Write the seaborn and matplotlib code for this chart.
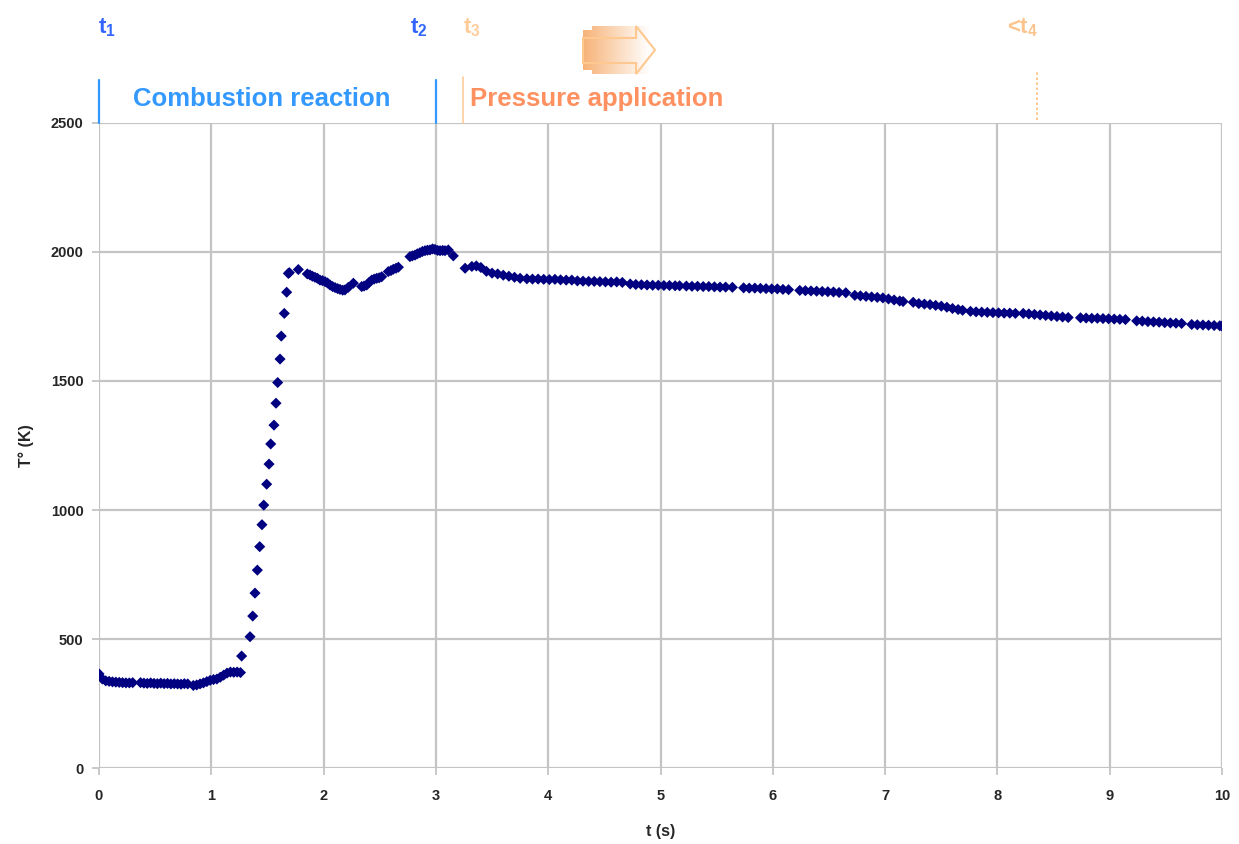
import numpy as np
import pandas as pd
import seaborn as sns
import matplotlib.pyplot as plt
import matplotlib.transforms as mtransforms
from matplotlib.patches import Polygon

# temperature trace: time (s), temperature (K)
t_s = [
    0.00, 0.03, 0.06, 0.09, 0.12, 0.15, 0.18, 0.21, 0.24, 0.27, 0.30,
    0.37, 0.40, 0.43, 0.46, 0.49, 0.52, 0.55, 0.58, 0.61, 0.64, 0.67, 0.70, 0.73, 0.76, 0.79,
    0.84, 0.87, 0.90, 0.93, 0.96, 0.99, 1.02, 1.05, 1.08, 1.11, 1.14, 1.17, 1.20, 1.23, 1.26,
    1.27, 1.345, 1.369, 1.389, 1.410, 1.431, 1.451, 1.467, 1.493, 1.514, 1.529, 1.558,
    1.576, 1.591, 1.612, 1.623, 1.650, 1.671, 1.686, 1.695, 1.775,
    1.855, 1.879, 1.90, 1.923, 1.945, 1.968, 1.99, 2.013, 2.035, 2.057, 2.08, 2.102, 2.125,
    2.146, 2.17, 2.19, 2.22, 2.265,
    2.339, 2.36, 2.384, 2.405, 2.428, 2.45, 2.473, 2.495, 2.517, 2.576, 2.60, 2.621, 2.645, 2.666,
    2.769, 2.79, 2.814, 2.835, 2.858, 2.88, 2.903, 2.925, 2.947, 2.97, 2.992, 3.015, 3.037,
    3.06, 3.081, 3.11, 3.155,
    3.26, 3.32, 3.36, 3.40, 3.45, 3.50, 3.55, 3.60, 3.65, 3.70, 3.75,
    3.81, 3.86, 3.91, 3.96, 4.01, 4.06, 4.11, 4.16, 4.21,
    4.26, 4.31, 4.36, 4.41, 4.46, 4.51, 4.56, 4.61, 4.66,
    4.73, 4.78, 4.83, 4.88, 4.93, 4.98, 5.03, 5.08, 5.13, 5.17,
    5.23, 5.28, 5.33, 5.38, 5.43, 5.48, 5.53, 5.58, 5.64,
    5.74, 5.79, 5.84, 5.89, 5.94, 5.99, 6.04, 6.09, 6.14,
    6.24, 6.29, 6.34, 6.39, 6.44, 6.49, 6.54, 6.59, 6.65,
    6.73, 6.78, 6.83, 6.88, 6.93, 6.98, 7.03, 7.08, 7.13, 7.16,
    7.25, 7.30, 7.35, 7.40, 7.45, 7.50, 7.55, 7.60, 7.65, 7.69,
    7.76, 7.81, 7.86, 7.91, 7.96, 8.01, 8.06, 8.11, 8.16,
    8.23, 8.28, 8.33, 8.38, 8.43, 8.48, 8.53, 8.58, 8.63,
    8.74, 8.79, 8.84, 8.89, 8.94, 8.99, 9.04, 9.09, 9.14,
    9.24, 9.29, 9.34, 9.39, 9.44, 9.49, 9.54, 9.59, 9.64,
    9.73, 9.78, 9.83, 9.88, 9.93, 9.98, 10.0,
]
temp_k = [
    365, 345, 338, 336, 334, 333, 332, 331, 330, 330, 331,
    331, 329, 328, 330, 328, 327, 329, 327, 328, 326, 327, 326, 325, 327, 326,
    320, 322, 326, 330, 335, 340, 343, 345, 352, 360, 368, 372, 371, 372, 370,
    434, 509, 589, 678, 767, 858, 943, 1019, 1100, 1178, 1256, 1329,
    1414, 1494, 1585, 1674, 1762, 1844, 1917, 1920, 1932,
    1915, 1911, 1906, 1902, 1898, 1891, 1889, 1885, 1880, 1872, 1866, 1862, 1858,
    1855, 1852, 1853, 1863, 1879,
    1866, 1868, 1872, 1882, 1891, 1895, 1898, 1900, 1904, 1924, 1928, 1933, 1937, 1941,
    1982, 1985, 1988, 1993, 1997, 2002, 2005, 2007, 2008, 2012, 2010, 2006, 2005,
    2006, 2005, 2008, 1985,
    1937, 1944, 1946, 1940, 1925, 1918, 1915, 1910, 1906, 1902, 1898,
    1896, 1895, 1895, 1894, 1893, 1894, 1892, 1891, 1891,
    1888, 1887, 1886, 1886, 1885, 1884, 1883, 1884, 1882,
    1876, 1874, 1873, 1872, 1871, 1871, 1870, 1870, 1869, 1869,
    1868, 1867, 1867, 1866, 1866, 1865, 1864, 1864, 1863,
    1861, 1860, 1860, 1859, 1858, 1857, 1857, 1855, 1854,
    1851, 1850, 1849, 1848, 1847, 1846, 1845, 1843, 1842,
    1832, 1830, 1828, 1826, 1824, 1822, 1818, 1814, 1810, 1808,
    1805, 1800, 1798, 1796, 1793, 1790, 1786, 1781, 1777, 1774,
    1770, 1768, 1767, 1766, 1765, 1764, 1763, 1763, 1762,
    1762, 1760, 1758, 1756, 1754, 1752, 1750, 1748, 1746,
    1745, 1744, 1743, 1743, 1742, 1741, 1740, 1739, 1738,
    1733, 1732, 1730, 1729, 1728, 1726, 1725, 1724, 1723,
    1719, 1718, 1717, 1716, 1715, 1714, 1713,
]

x_ticks = list(range(0, 11))
y_ticks = [0, 500, 1000, 1500, 2000, 2500]

# process markers above the plot
stage_names = ["Combustion reaction", "Pressure application"]
stage_text_t = [0.30, 3.30]
t1_t, t2_t, t3_t, t4_t = 0.0, 3.0, 3.24, 8.35

df = pd.DataFrame({"t": t_s, "T": temp_k})

sns.set_theme(style="whitegrid")
plt.rcParams["font.family"] = ["Liberation Sans", "DejaVu Sans"]
plt.rcParams["mathtext.fontset"] = "custom"
plt.rcParams["mathtext.bf"] = "Liberation Sans:bold"
plt.rcParams["mathtext.rm"] = "Liberation Sans:bold"

fig = plt.figure(figsize=(12.39, 8.44), dpi=100)
ax = fig.add_axes([0.0799, 0.0900, 0.9064, 0.7643])

sns.scatterplot(data=df, x="t", y="T", marker="D", s=32, color="#000080",
                edgecolor="none", linewidth=0, ax=ax, zorder=3)

grid_c = "#c4c4c4"
ax.set_xlim(0, 10)
ax.set_ylim(0, 2500)
ax.set_xticks(x_ticks)
ax.set_yticks(y_ticks)
ax.grid(True, color=grid_c, linewidth=1.6)
for sp in ax.spines.values():
    sp.set_visible(False)
ax.tick_params(axis="x", length=5, width=1.3, color=grid_c, pad=10,
               labelsize=10.5, bottom=True)
ax.tick_params(axis="y", length=5, width=1.3, color=grid_c, pad=6,
               labelsize=10.5, left=True)
for lab in ax.get_xticklabels() + ax.get_yticklabels():
    lab.set_fontweight("bold")
ax.set_xlabel("t (s)", fontsize=11.5, fontweight="bold", labelpad=15)
ax.set_ylabel("T° (K)", fontsize=11.5, fontweight="bold", labelpad=12)

# annotations above the axes: x in data, y in axes fraction
trans = mtransforms.blended_transform_factory(ax.transData, ax.transAxes)
blue_line = "#3399ff"
for tt in (t1_t, t2_t):
    ax.plot([tt, tt], [1.0, 1.067], color=blue_line, lw=1.6,
            transform=trans, clip_on=False)
ax.plot([t3_t, t3_t], [1.0, 1.071], color="#ffcc99", lw=1.2,
        transform=trans, clip_on=False)
ax.plot([t4_t, t4_t], [1.005, 1.079], color="#ffbb77", lw=1.2, ls=(0, (1.5, 1.5)),
        transform=trans, clip_on=False)

ax.text(stage_text_t[0], 1.037, stage_names[0], transform=trans, color="#3399ff",
        fontsize=18.5, fontweight="bold", va="center", ha="left")
ax.text(stage_text_t[1], 1.037, stage_names[1], transform=trans, color="#ff9060",
        fontsize=18.5, fontweight="bold", va="center", ha="left")

ax.text(-0.01, 1.147, r"$\mathbf{t_1}$", transform=trans, color="#3366ff",
        fontsize=16, va="center", ha="left")
ax.text(2.77, 1.147, r"$\mathbf{t_2}$", transform=trans, color="#3366ff",
        fontsize=16, va="center", ha="left")
ax.text(3.24, 1.147, r"$\mathbf{t_3}$", transform=trans, color="#ffcc99",
        fontsize=16, va="center", ha="left")
ax.text(8.085, 1.147, r"<$\mathbf{t_4}$", transform=trans, color="#fcc48c",
        fontsize=16, fontweight="bold", va="center", ha="left")

# gradient block arrow (decoration, drawn in figure pixels)
ov = fig.add_axes([0, 0, 1, 1], facecolor="none")
ov.set_xlim(0, 1239)
ov.set_ylim(844, 0)
ov.axis("off")
grad = np.linspace(0, 1, 256)[None, :]
orange = np.array([0.97, 0.70, 0.47])
img = np.ones((1, 256, 4))
img[..., :3] = orange * (1 - grad[..., None]) + 1.0 * grad[..., None]
img[..., 3] = 1.0
arrow_pts = [(583, 38), (636, 38), (636, 26), (655, 50), (636, 74),
             (636, 63), (583, 63)]
block = Polygon([(583, 30), (592, 30), (592, 26), (650, 26), (650, 74),
                 (592, 74), (592, 70), (583, 70)], closed=True,
                facecolor="none", edgecolor="none")
ov.add_patch(block)
im = ov.imshow(img, extent=(583, 650, 75, 25), aspect="auto", zorder=1)
im.set_clip_path(block)
ov.add_patch(Polygon(arrow_pts, closed=True, facecolor="none",
                     edgecolor="#ffc890", lw=1.5, zorder=2))

fig.savefig("out.png", dpi=100)
